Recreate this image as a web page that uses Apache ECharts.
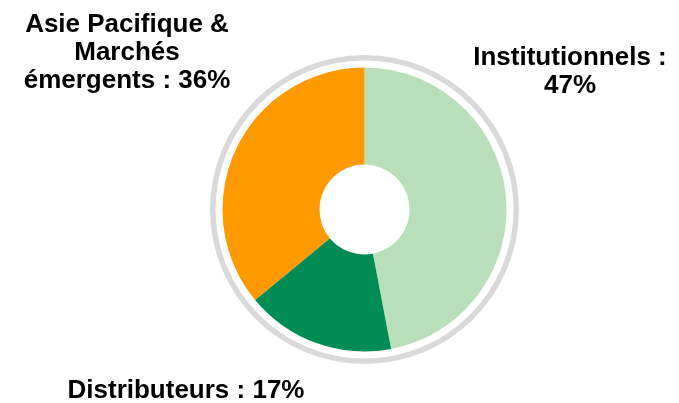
<!DOCTYPE html>
<html>
<head>
<meta charset="utf-8">
<script src="https://cdn.jsdelivr.net/npm/echarts@6/dist/echarts.min.js"></script>
<style>
  html, body { margin: 0; padding: 0; background: #fff; }
  #chart { width: 679px; height: 403px; }
</style>
</head>
<body>
<div id="chart"></div>
<script>
// Répartition par canal de distribution
const categories = ['Institutionnels', 'Distributeurs', 'Asie Pacifique & Marchés émergents'];
const labelTexts = ['Institutionnels :\n47%', 'Distributeurs : 17%', 'Asie Pacifique &\nMarchés\némergents : 36%'];
const shares = [47, 17, 36];
const colors = ['#b9dfba', '#008c54', '#ff9900'];

// label anchor points (centre of each text block)
const labelAnchors = [[570, 72], [186, 391], [127, 53]];

const chart = echarts.init(document.getElementById('chart'), null, { renderer: 'canvas' });

chart.setOption({
  animation: false,
  series: [
    {
      // thin grey ring around the donut
      type: 'pie',
      silent: true,
      center: [364.5, 209.5],
      radius: [149, 154.5],
      label: { show: false },
      labelLine: { show: false },
      itemStyle: { color: '#d9d9d9' },
      data: [{ value: 1, name: '' }]
    },
    {
      type: 'pie',
      center: [364.5, 209.5],
      radius: [45, 142],
      startAngle: 90,
      clockwise: true,
      avoidLabelOverlap: false,
      data: categories.map((c, i) => ({
        name: c,
        value: shares[i],
        itemStyle: { color: colors[i] },
        label: { formatter: labelTexts[i] }
      })),
      label: {
        show: true,
        position: 'outside',
        alignTo: 'none',
        overflow: 'none',
        width: 400,
        fontFamily: 'Liberation Sans, Arial, sans-serif',
        fontWeight: 'bold',
        fontSize: 26,
        lineHeight: 28,
        color: '#000',
        align: 'center'
      },
      labelLine: { show: false },
      labelLayout: function (params) {
        const p = labelAnchors[params.dataIndex];
        return { x: p[0], y: p[1], align: 'center', verticalAlign: 'middle' };
      }
    }
  ]
});
</script>
</body>
</html>
